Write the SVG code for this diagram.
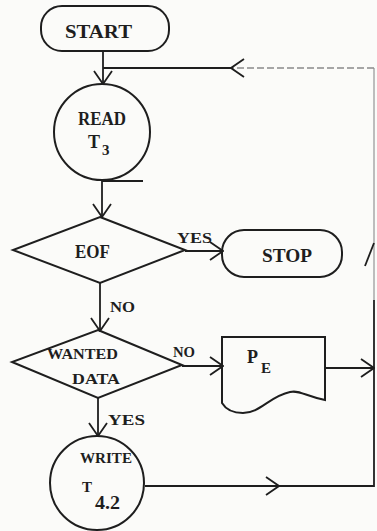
<svg xmlns="http://www.w3.org/2000/svg" width="377" height="531" viewBox="0 0 377 531">
<style>
.shape{fill:none;stroke:#1e1e1e;stroke-width:2}
.line{fill:none;stroke:#1e1e1e;stroke-width:1.8}
.faint{fill:none;stroke:#a8a8a8;stroke-width:1.5}
.dash{fill:none;stroke:#8a8a8a;stroke-width:1.6;stroke-dasharray:7 3}
.t{font-family:"Liberation Serif","DejaVu Serif",serif;font-weight:bold;font-size:18px;fill:#1e1e1e}
.s{font-size:15px}
</style>
<defs>
<marker id="arr" viewBox="-1 -1 15 20" refX="13" refY="9" markerWidth="15" markerHeight="20" markerUnits="userSpaceOnUse" orient="auto">
<path d="M0,0 L13,9 L0,18" fill="none" stroke="#1e1e1e" stroke-width="1.8"/>
</marker>
</defs>
<rect width="377" height="531" fill="#fbfbf9"/>
<g id="connectors">
<path class="line" d="M103,52 V84" marker-end="url(#arr)"/>
<path class="line" d="M102,180 V217" marker-end="url(#arr)"/>
<path class="line" d="M185,251 H223" marker-end="url(#arr)"/>
<path class="line" d="M100,283 V331" marker-end="url(#arr)"/>
<path class="line" d="M182,366 H223" marker-end="url(#arr)"/>
<path class="line" d="M98,398 V436" marker-end="url(#arr)"/>
<path class="line" d="M325,368 H374" marker-end="url(#arr)"/>
<path class="line" d="M145,486 H279" marker-end="url(#arr)"/>
<path class="line" d="M277,486 H374 V300"/>
<path class="faint" d="M374,300 V68"/>
<path class="dash" d="M374,68 H231" marker-end="url(#arr)"/>
<path class="line" d="M233,68 H103"/>
<path class="line" d="M365,266 L374,243"/>
</g>
<g id="start">
<rect class="shape" x="41" y="6" width="128" height="45" rx="21"/>
<text class="t" x="65" y="38" textLength="67" lengthAdjust="spacingAndGlyphs">START</text>
</g>
<g id="read">
<circle class="shape" cx="102" cy="132" r="48"/>
<path class="line" d="M102,181 H143"/>
<text class="t" x="78" y="125" textLength="48" lengthAdjust="spacingAndGlyphs">READ</text>
<text class="t" x="88" y="148">T</text>
<text class="t s" x="102" y="155">3</text>
</g>
<g id="eof">
<path class="shape" d="M100,217 L185,250 L100,283 L13,250 Z"/>
<text class="t" x="75" y="258" textLength="35" lengthAdjust="spacingAndGlyphs">EOF</text>
<text class="t s" x="177" y="243" textLength="35" lengthAdjust="spacingAndGlyphs">YES</text>
<text class="t s" x="110" y="312" textLength="25" lengthAdjust="spacingAndGlyphs">NO</text>
</g>
<g id="stop">
<rect class="shape" x="222" y="230" width="120" height="47" rx="22"/>
<text class="t" x="262" y="262" textLength="50" lengthAdjust="spacingAndGlyphs">STOP</text>
</g>
<g id="wanted">
<path class="shape" d="M98,330 L182,365 L98,398 L12,362 Z"/>
<text class="t s" x="47" y="359" textLength="71" lengthAdjust="spacingAndGlyphs">WANTED</text>
<text class="t s" x="72" y="384" textLength="48" lengthAdjust="spacingAndGlyphs">DATA</text>
<text class="t s" x="173" y="357" textLength="22" lengthAdjust="spacingAndGlyphs">NO</text>
<text class="t s" x="108" y="425" textLength="37" lengthAdjust="spacingAndGlyphs">YES</text>
</g>
<g id="pe">
<path class="shape" d="M222,337 H325 V400 C305,396 300,390 290,392 C270,396 260,413 243,413 C232,413 225,408 222,403 Z"/>
<text class="t" x="247" y="363">P</text>
<text class="t s" x="261" y="373">E</text>
</g>
<g id="write">
<circle class="shape" cx="97" cy="483" r="47"/>
<text class="t s" x="80" y="463" textLength="52" lengthAdjust="spacingAndGlyphs">WRITE</text>
<text class="t s" x="82" y="492">T</text>
<text class="t" x="95" y="509" textLength="25" lengthAdjust="spacingAndGlyphs">4.2</text>
</g>
</svg>
